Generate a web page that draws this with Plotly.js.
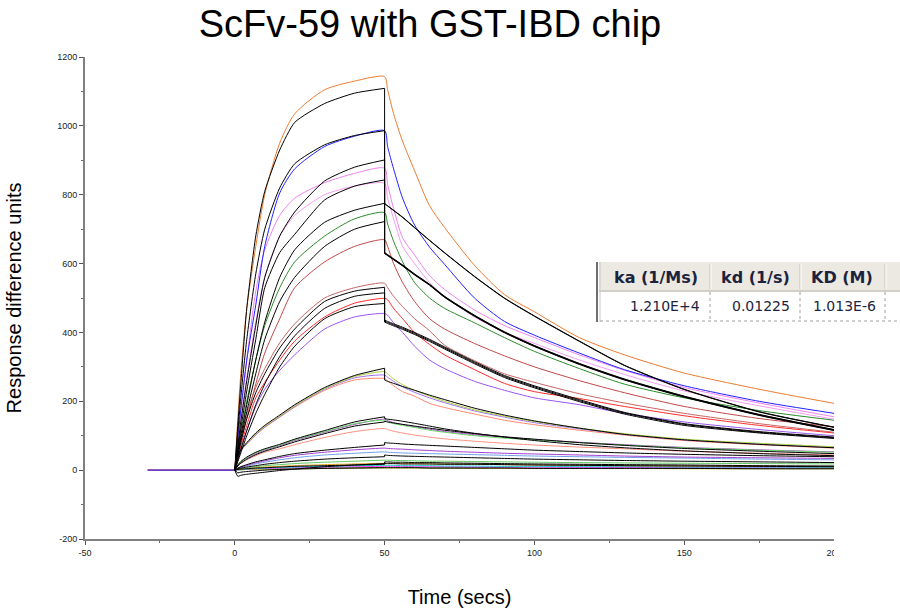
<!DOCTYPE html>
<html><head><meta charset="utf-8">
<script src="https://cdn.plot.ly/plotly-3.0.1.min.js"></script>
<style>html,body{margin:0;padding:0;background:#fff}#chart{width:900px;height:610px}</style>
</head><body><div id="chart"></div>
<script>
// time grids (s)
const tAssoc = [-29, 0, 1, 2, 4, 7, 10, 15, 20, 30, 40, 50];
const tDiss  = [50, 51, 53, 56, 60, 65, 70, 80, 90, 100, 115, 130, 150, 175, 200];

// measured sensorgrams (response units), association / dissociation
const orangeA = [0,0,150,280,470,650,800,950,1035,1105,1130,1143];
const orangeD = [1143,1105,1035,955,870,768,705,595,510,460,385,335,282,235,194];
const blueA   = [0,0,90,175,320,480,650,805,875,940,970,986];
const blueD   = [986,940,875,790,712,648,598,500,432,392,340,292,245,200,165];
const pink1A  = [0,0,90,170,320,520,640,740,790,835,862,877];
const pink1D  = [877,830,760,675,625,565,525,465,420,385,335,290,240,195,155];
const pink2A  = [0,0,75,145,270,430,560,680,740,800,825,833];
const pink2D  = [833,790,730,650,600,545,505,445,400,368,320,278,230,187,148];
const greenA  = [0,0,60,110,200,320,420,530,605,680,730,748];
const greenD  = [748,715,665,605,545,500,470,428,385,345,295,250,210,173,145];
const brownA  = [0,0,40,80,150,250,340,440,530,605,650,669];
const brownD  = [669,650,600,545,490,440,410,368,332,300,260,225,185,150,126];
const brown2A = [0,0,45,90,165,240,295,370,425,500,530,543];
const brown2D = [543,530,505,475,440,405,363,318,280,255,222,195,165,135,110];
const redA    = [0,0,35,70,130,210,255,320,375,445,485,499];
const redD    = [499,495,470,440,400,365,335,292,252,228,208,185,158,130,108];
const purpleA = [0,0,30,60,115,185,235,290,335,410,445,455];
const purpleD = [455,450,428,400,360,320,295,258,232,210,190,165,140,118,100];
const ygA     = [0,0,38,58,78,105,127,157,187,237,272,286];
const ygD     = [286,280,265,248,232,215,200,175,157,141,122,106,90,78,68];
const purple3A= [0,0,36,56,76,103,125,155,185,235,268,276];
const purple3D= [276,270,258,242,226,210,196,172,154,138,120,104,88,76,66];
const salmonA = [0,0,36,56,76,102,124,154,183,232,262,266];
const salmonD = [266,260,245,228,215,194,182,163,145,132,116,102,86,74,64];
const green4A = [0,0,14,24,36,50,60,73,88,112,135,145];
const green4D = [145,140,135,130,124,116,110,100,93,88,80,73,65,58,52];
const magenta4A = [0,0,14,23,35,48,58,71,86,110,133,148];
const magenta4D = [148,144,138,132,126,119,112,103,95,89,81,74,66,59,53];
const salmon4A= [0,0,12,20,30,42,52,62,74,95,112,121];
const salmon4D= [121,118,113,108,102,96,91,84,78,73,67,62,55,49,44];
const purple5A= [0,0,5,9,14,21,27,36,43,52,59,64];
const purple5D= [64,63,62,61,59,57,55,52,49,47,44,41,38,36,34];
const blue5A  = [0,0,4,8,12,18,23,30,36,44,49,53];
const blue5D  = [53,52,51,50,49,48,47,45,43,41,39,37,35,32,30];
const green5A = [0,0,2,4,7,10,13,16,19,23,26,29];
const green5D = [29,29,28,28,27,26,26,25,24,23,22,21,20,19,18];
const orange6A= [0,0,2,3,5,7,9,11,13,16,18,20];
const orange6D= [20,20,20,19,19,18,18,17,16,15,14,13,12,11,10];
const cyan6A  = [0,0,1,2,3,5,6,8,9,11,13,14];
const cyan6D  = [14,14,14,13,13,13,12,12,11,11,10,10,9,9,8];
const magenta6A = [0,0,1,2,3,4,5,6,7,9,10,11];
const magenta6D = [11,11,11,11,10,10,10,9,9,9,8,8,7,7,7];
const teal6A  = [0,0,1,1,2,3,3,4,5,6,7,8];
const teal6D  = [8,8,8,8,8,7,7,7,7,6,6,6,6,5,5];
const yellow6A= [0,0,1,1,2,2,3,3,4,5,6,6];
const yellow6D= [6,6,6,6,6,6,6,5,5,5,5,5,4,4,4];

// global-fit curves (black)
const fit1A = [0,0,130,250,470,680,810,930,1010,1065,1095,1109];
const fit1D = [775,768,755,735,705,668,632,563,500,448,375,305,235,170,125];
const fit2A = [0,0,110,210,380,570,700,820,890,945,972,986];
const fit2D = [774,767,754,734,704,667,631,562,499,447,374,304,234,169,124];
const fit3A = [0,0,70,140,260,420,560,680,750,840,880,901];
const fit3D = [632,626,614,596,570,540,505,450,402,362,310,265,215,162,118];
const fit4A = [0,0,60,120,230,380,530,632,685,785,825,843];
const fit4D = [631,625,613,595,569,539,504,449,401,361,309,264,214,161,117];
const fit5A = [0,0,50,100,190,320,430,560,640,720,755,775];
const fit5D = [630,624,612,594,568,538,503,448,400,360,308,263,213,160,116];
const fit6A = [0,0,45,90,170,280,380,490,560,650,700,722];
const fit6D = [629,623,611,593,567,537,502,447,399,359,307,262,212,159,115];
const fit7A = [0,0,40,80,150,225,280,355,410,490,520,531];
const fit7D = [436,432,425,415,400,380,358,315,275,245,205,168,135,112,96];
const fit8A = [0,0,30,60,115,190,250,330,390,470,505,515];
const fit8D = [433,429,422,412,397,377,355,312,272,242,202,166,133,110,94];
const fit9A = [0,0,25,50,100,165,220,300,360,440,475,484];
const fit9D = [430,426,419,409,394,374,352,309,269,239,199,163,130,108,92];
const fit10A = [0,0,40,60,80,108,130,160,190,240,275,296];
const fit10D = [262,258,252,243,232,218,205,180,160,143,122,104,88,75,65];
const fit11A = [0,0,15,25,38,52,62,75,90,115,140,155];
const fit11D = [150,148,146,142,136,128,120,107,96,86,74,65,56,48,42];
const fit12A = [0,0,12,20,32,45,55,68,82,106,128,140];
const fit12D = [142,140,137,133,128,122,116,106,97,90,80,72,63,55,48];
const fit13A = [0,0,6,10,16,24,30,40,48,58,66,73];
const fit13D = [80,79,78,76,74,72,70,66,62,58,54,50,46,42,39];
const fit14A = [0,0,3,6,9,13,17,22,26,32,36,39];
const fit14D = [44,43,42,41,40,39,38,36,34,32,30,28,26,24,22];
const fit15A = [0,0,-18,-15,-12,-9,-6,-1,3,10,15,19];
const fit15D = [19,19,19,18,18,18,17,17,16,15,14,13,12,11,10];
const fit16A = [0,0,2,3,4,6,7,9,11,13,15,17];
const fit16D = [24,24,23,23,22,22,21,20,19,18,17,16,15,13,12];
const fit17A = [0,0,-8,-6,-4,-2,0,2,3,5,6,7];
const fit17D = [7,7,7,7,7,6,6,6,6,5,5,5,5,4,4];

// kinetic table
const tableHeaders = ['ka (1/Ms)', 'kd (1/s)', 'KD (M)'];
const tableValues  = ['1.210E+4', '0.01225', '1.013E-6'];

const xTicks = [-50, 0, 50, 100, 150, 200];
const yTicks = [-200, 0, 200, 400, 600, 800, 1000, 1200];

const measured = [
  [teal6A, teal6D, '#108080'], [yellow6A, yellow6D, '#c8c820'],
  [magenta6A, magenta6D, '#ff30ff'], [cyan6A, cyan6D, '#20c8d0'],
  [orange6A, orange6D, '#e0a020'], [green5A, green5D, '#60c860'],
  [blue5A, blue5D, '#70a0e8'], [purple5A, purple5D, '#a040d0'],
  [salmon4A, salmon4D, '#ff9080'], [magenta4A, magenta4D, '#b040c8'],
  [green4A, green4D, '#66dd66'], [salmonA, salmonD, '#ff8870'],
  [purple3A, purple3D, '#a070f0'], [ygA, ygD, '#a8d040'],
  [purpleA, purpleD, '#9a55f0'], [redA, redD, '#ff2a2a'],
  [brown2A, brown2D, '#c86464'], [brownA, brownD, '#c04848'],
  [greenA, greenD, '#2a8a2a'], [pink2A, pink2D, '#f29cf2'],
  [pink1A, pink1D, '#ee82ee'], [orangeA, orangeD, '#ec7c30'],
  [blueA, blueD, '#2020ff']
];
const fits = [
  [fit1A, fit1D], [fit2A, fit2D], [fit3A, fit3D], [fit4A, fit4D], [fit5A, fit5D],
  [fit6A, fit6D], [fit7A, fit7D], [fit8A, fit8D], [fit9A, fit9D], [fit10A, fit10D],
  [fit11A, fit11D], [fit12A, fit12D], [fit13A, fit13D], [fit14A, fit14D],
  [fit15A, fit15D], [fit16A, fit16D], [fit17A, fit17D]
];

const traces = [];
measured.forEach(([a, d, c]) => {
  traces.push({type:'scatter', mode:'lines', x: tAssoc.slice(0, 2), y: a.slice(0, 2),
    line:{color:c, width:1}, showlegend:false, hoverinfo:'skip'});
  traces.push({type:'scatter', mode:'lines', x: tAssoc.slice(1).concat(tDiss.slice(1)), y: a.slice(1).concat(d.slice(1)),
    line:{color:c, width:1, shape:'spline', smoothing:0.7}, showlegend:false, hoverinfo:'skip'});
});
fits.forEach(([a, d]) => {
  // association fit
  traces.push({type:'scatter', mode:'lines', x: tAssoc.slice(1), y: a.slice(1),
    line:{color:'#000000', width:1, shape:'spline', smoothing:0.6}, showlegend:false, hoverinfo:'skip'});
  // jump at end of injection
  traces.push({type:'scatter', mode:'lines', x: [tAssoc[tAssoc.length-1], tDiss[0]], y: [a[a.length-1], d[0]],
    line:{color:'#000000', width:1}, showlegend:false, hoverinfo:'skip'});
  // dissociation fit
  traces.push({type:'scatter', mode:'lines', x: tDiss, y: d,
    line:{color:'#000000', width:1, shape:'spline', smoothing:0.6}, showlegend:false, hoverinfo:'skip'});
});

// pixel -> paper helpers for overlay placement
const PL = 85, PR = 834, PT = 57, PB = 539;
const px = p => (p - PL) / (PR - PL);
const py = p => (PB - p) / (PB - PT);

const shapes = [
  {type:'rect', xref:'paper', yref:'paper', x0:px(599), x1:px(900), y0:py(291), y1:py(262), fillcolor:'#ebe9e1', line:{width:0}, layer:'above'},
  {type:'rect', xref:'paper', yref:'paper', x0:px(599), x1:px(900), y0:py(321), y1:py(291), fillcolor:'#ffffff', line:{width:0}, layer:'above'},
  {type:'line', xref:'paper', yref:'paper', x0:px(599), x1:px(900), y0:py(291), y1:py(291), line:{color:'#d2d0c6', width:2}, layer:'above'},
  {type:'line', xref:'paper', yref:'paper', x0:px(597), x1:px(597), y0:py(262), y1:py(322), line:{color:'#6e6e6e', width:2}, layer:'above'},
  {type:'line', xref:'paper', yref:'paper', x0:px(600), x1:px(600), y0:py(262), y1:py(322), line:{color:'#c8c8c8', width:1}, layer:'above'},
  {type:'line', xref:'paper', yref:'paper', x0:px(600), x1:px(900), y0:py(321), y1:py(321), line:{color:'#a0a0a0', width:1, dash:'dot'}, layer:'above'},
  {type:'rect', xref:'paper', yref:'paper', x0:px(834), x1:px(900), y0:py(560), y1:py(541), fillcolor:'#ffffff', line:{width:0}, layer:'above'}
];
[710, 800, 885].forEach(xp => {
  shapes.push({type:'line', xref:'paper', yref:'paper', x0:px(xp), x1:px(xp), y0:py(264), y1:py(289), line:{color:'#c4c2b8', width:1}, layer:'above'});
  shapes.push({type:'line', xref:'paper', yref:'paper', x0:px(xp+1), x1:px(xp+1), y0:py(264), y1:py(289), line:{color:'#ffffff', width:1}, layer:'above'});
  shapes.push({type:'line', xref:'paper', yref:'paper', x0:px(xp), x1:px(xp), y0:py(292), y1:py(321), line:{color:'#a0a0a0', width:1, dash:'dot'}, layer:'above'});
});

const hdrX = [656, 755, 842];
const valRight = [702, 792, 878];
const annotations = [];
tableHeaders.forEach((h, i) => annotations.push({xref:'paper', yref:'paper', x:px(hdrX[i]), y:py(277), text:'<b>'+h+'</b>',
  showarrow:false, xanchor:'center', yanchor:'middle', font:{family:'DejaVu Sans', size:16, color:'#1c2340'}}));
tableValues.forEach((v, i) => annotations.push({xref:'paper', yref:'paper', x:px(valRight[i]), y:py(306), text:v,
  showarrow:false, xanchor:'right', yanchor:'middle', font:{family:'DejaVu Sans', size:14, color:'#1c2340'}}));

const axisFont = {family:'Liberation Sans, Arial, sans-serif', size:9, color:'#222'};
const layout = {
  width:900, height:610,
  margin:{l:PL, r:900-PR, t:PT, b:610-PB, pad:0},
  paper_bgcolor:'#ffffff', plot_bgcolor:'#ffffff',
  title:{text:'ScFv-59 with GST-IBD chip', x:430/900, xanchor:'center', y:1-24/610, yanchor:'middle',
    font:{family:'Liberation Sans, Arial, sans-serif', size:38, color:'#000'}},
  xaxis:{range:[-50,200], tickvals:xTicks, ticktext:xTicks.map(String), ticks:'outside', ticklen:4, tickcolor:'#555',
    showline:true, linecolor:'#808080', linewidth:2, showgrid:false, zeroline:false, tickfont:axisFont,
    minor:{ticks:'outside', ticklen:2, dtick:25, tickcolor:'#666', showgrid:false},
    title:{text:'Time (secs)', standoff:33, font:{family:'Liberation Sans, Arial, sans-serif', size:20, color:'#000'}},
    automargin:false},
  yaxis:{range:[-200,1200], tickvals:yTicks, ticktext:yTicks.map(String), ticks:'outside', ticklen:4, tickcolor:'#555',
    showline:true, linecolor:'#808080', linewidth:2, showgrid:false, zeroline:false, tickfont:axisFont,
    minor:{ticks:'outside', ticklen:2, dtick:100, tickcolor:'#666', showgrid:false},
    title:{text:'Response difference units', standoff:30, font:{family:'Liberation Sans, Arial, sans-serif', size:20, color:'#000'}},
    automargin:false},
  shapes:shapes, annotations:annotations, showlegend:false
};
Plotly.newPlot('chart', traces, layout, {staticPlot:true, displayModeBar:false});
</script></body></html>
